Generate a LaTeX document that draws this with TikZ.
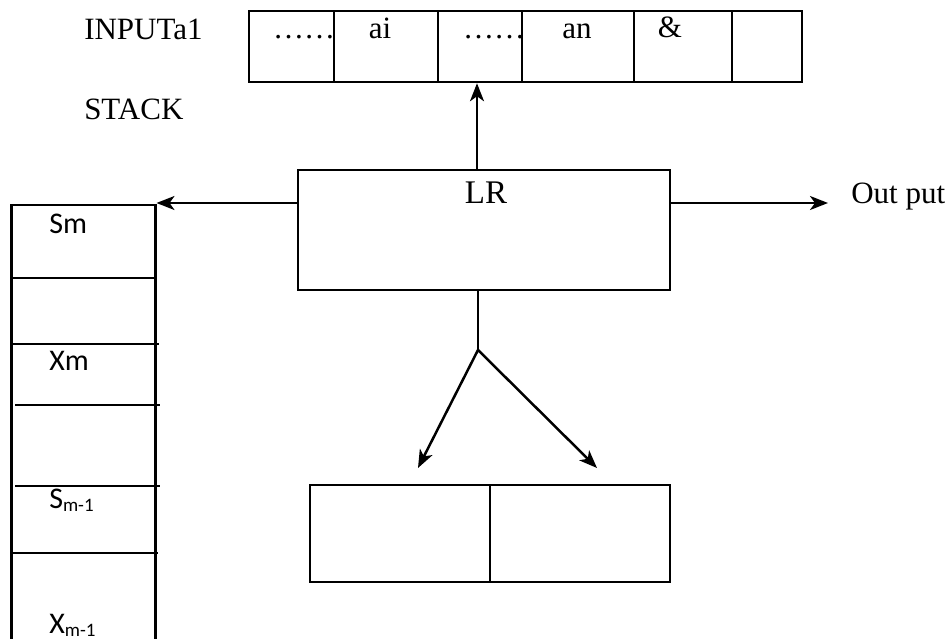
\documentclass[tikz,border=0pt]{standalone}
\usepackage{fontspec}
\setmainfont{Liberation Serif}
\newfontfamily\calibri{Carlito}
\usetikzlibrary{arrows.meta}
\begin{document}
\begin{tikzpicture}[x=1pt,y=-1pt,line width=2.5pt,
  box/.style={draw,rectangle,inner sep=0pt,line width=2.5pt},
  cellbox/.style={box,minimum height=71},
  arr/.style={-{Stealth[length=18pt,width=14pt,inset=5pt]},line width=2.5pt},
  txt/.style={inner sep=0pt,anchor=base,font=\fontsize{31}{34}\selectfont},
  ltxt/.style={inner sep=0pt,anchor=base west,font=\fontsize{31}{34}\selectfont},
  stxt/.style={inner sep=0pt,anchor=base west,font=\calibri\fontsize{30}{32}\selectfont}]
\useasboundingbox (0,0) rectangle (951,639);
\fill[white] (0,0) rectangle (951,639);
% input tape
\node[cellbox,minimum width=85] (c1) at (291.5,46.5) {};
\node[cellbox,minimum width=104] (c2) at (386,46.5) {};
\node[cellbox,minimum width=84] (c3) at (480,46.5) {};
\node[cellbox,minimum width=112] (c4) at (578,46.5) {};
\node[cellbox,minimum width=98] (c5) at (683,46.5) {};
\node[cellbox,minimum width=70] (c6) at (767,46.5) {};
\node[txt] (t1) at (304,39) {……};
\node[txt] (t2) at (380,39) {ai};
\node[txt] (t3) at (494,39) {……};
\node[txt] (t4) at (577,39) {an};
\node[txt] (t5) at (670,38) {\&};
\node[ltxt] (inp) at (83,40) {INPUTa1};
\node[ltxt] (stk) at (83,120) {STACK};
% LR box
\node[box,minimum width=372,minimum height=120] (lr) at (484,230) {};
\node[txt,font=\fontsize{33}{36}\selectfont] (lrt) at (486,204) {LR};
% output
\node[ltxt] (out) at (850,204) {Out put};
% stack
\node[box,minimum width=144,minimum height=470,anchor=north west] (stack) at (10,204) {};
\draw (10,278) -- (154,278);
\draw (13,344) -- (159,344);
\draw (15,405) -- (160,405);
\draw (15,486) -- (160,486);
\draw (13,553) -- (158,553);
\node[stxt] (sm) at (48,234) {Sm};
\node[stxt] (xm) at (48,370) {Xm};
\node[stxt] (sm1) at (48,508) {S\raisebox{-3pt}{\fontsize{19}{20}\selectfont m-1}};
\node[stxt] (xm1) at (48,633) {X\raisebox{-3pt}{\fontsize{19}{20}\selectfont m-1}};
% bottom box
\node[box,minimum width=180,minimum height=97] (b1) at (400,533.5) {};
\node[box,minimum width=180,minimum height=97] (b2) at (580,533.5) {};
% connectors
\coordinate (up) at (477,170);
\coordinate (lrL) at (298,203);
\coordinate (fork) at (478,350);
\coordinate (tipL) at (418,468);
\coordinate (tipR) at (597,468);
\draw[arr] (lr.north -| up) -- (c3.south -| up);
\draw[arr] (lrL) -- (stack.north east |- lrL);
\draw[arr] (lr.east |- lrL) -- ([xshift=-22pt]out.base west |- lrL);
\draw (lr.south -| fork) -- (fork);
\draw[arr] (fork) -- (tipL);
\draw[arr] (fork) -- (tipR);
\end{tikzpicture}
\end{document}
